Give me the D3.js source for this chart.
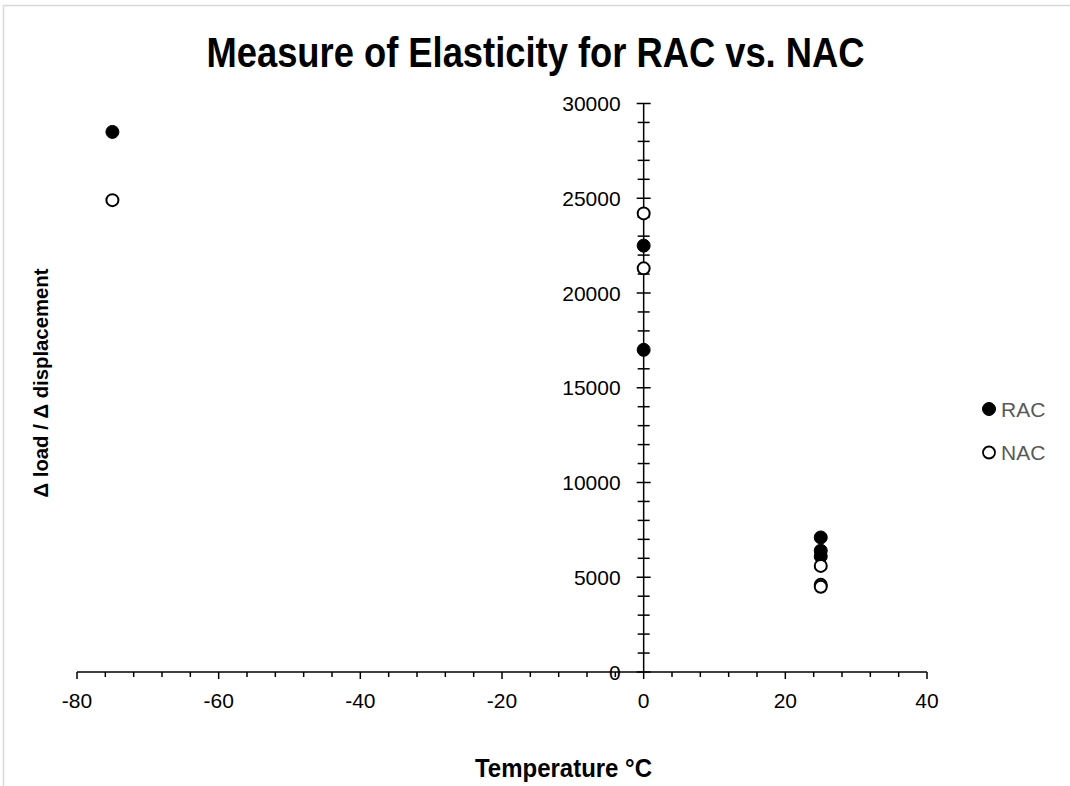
<!DOCTYPE html>
<html><head><meta charset="utf-8">
<script src="https://cdn.jsdelivr.net/npm/d3@7"></script>
<style>body{margin:0;background:#fff}svg{display:block}text{font-family:Arial,"Liberation Sans",sans-serif}</style>
</head><body><svg id="c" width="1070" height="786"></svg>
<script>
const racX = [-75, 0, 0, 25, 25, 25];
const racY = [28500, 22500, 17000, 7100, 6400, 6100];
const nacX = [-75, 0, 0, 25, 25, 25];
const nacY = [24900, 24200, 21300, 5600, 4600, 4500];
const xTicks = [-80, -60, -40, -20, 0, 20, 40];
const yTicks = [0, 5000, 10000, 15000, 20000, 25000, 30000];
const seriesNames = ["RAC", "NAC"];

const svg = d3.select("#c");
svg.append("rect").attr("x",3.5).attr("y",5.5).attr("width",1100).attr("height",900)
  .attr("fill","#fff").attr("stroke","#d9d9d9").attr("stroke-width",1.5);

const x = d3.scaleLinear().domain([-80,40]).range([77,927]);
const y = d3.scaleLinear().domain([0,30000]).range([672,103.5]);

// x axis
const gx = svg.append("g");
gx.append("line").attr("x1",x(-80)).attr("x2",x(40)).attr("y1",y(0)).attr("y2",y(0)).attr("stroke","#000").attr("stroke-width",1.5);
d3.range(-80,40.1,4).forEach(v=>{
  const major = v%20===0;
  gx.append("line").attr("x1",x(v)).attr("x2",x(v)).attr("y1",y(0)).attr("y2",y(0)+(major?7:5)).attr("stroke","#000").attr("stroke-width",1.5);
});
gx.selectAll("text.xt").data(xTicks).join("text").attr("class","xt")
  .attr("x",d=>x(d)).attr("y",y(0)+36).attr("text-anchor","middle").attr("font-size",21).attr("fill","#000").text(d=>d);

// y axis
const gy = svg.append("g");
gy.append("line").attr("x1",x(0)).attr("x2",x(0)).attr("y1",y(0)).attr("y2",y(30000)).attr("stroke","#000").attr("stroke-width",1.5);
d3.range(0,30001,1000).forEach(v=>{
  const major = v%5000===0;
  const l = major?7:6;
  gy.append("line").attr("x1",x(0)-l).attr("x2",x(0)+l).attr("y1",y(v)).attr("y2",y(v)).attr("stroke","#000").attr("stroke-width",1.5);
});
gy.selectAll("text.yt").data(yTicks).join("text").attr("class","yt")
  .attr("x",x(0)-23).attr("y",d=>y(d)+7.5).attr("text-anchor","end").attr("font-size",21).attr("fill","#000").text(d=>d);

// points
svg.append("g").selectAll("circle").data(racX.map((v,i)=>[v,racY[i]])).join("circle")
  .attr("cx",d=>x(d[0])).attr("cy",d=>y(d[1])).attr("r",6.5).attr("fill","#000").attr("stroke","#000").attr("stroke-width",1);
svg.append("g").selectAll("circle").data(nacX.map((v,i)=>[v,nacY[i]])).join("circle")
  .attr("cx",d=>x(d[0])).attr("cy",d=>y(d[1])).attr("r",6).attr("fill","#fff").attr("stroke","#000").attr("stroke-width",2);

// titles
svg.append("text").attr("x",535.5).attr("y",67).attr("text-anchor","middle").attr("font-size",42).attr("font-weight","bold")
  .attr("textLength",658).attr("lengthAdjust","spacingAndGlyphs").attr("fill","#000").text("Measure of Elasticity for RAC vs. NAC");
svg.append("text").attr("x",563.5).attr("y",777).attr("text-anchor","middle").attr("font-size",26).attr("font-weight","bold")
  .attr("textLength",177).attr("lengthAdjust","spacingAndGlyphs").attr("fill","#000").text("Temperature °C");
svg.append("text").attr("transform","translate(48,383) rotate(-90)").attr("text-anchor","middle").attr("font-size",20).attr("font-weight","bold")
  .attr("textLength",229).attr("lengthAdjust","spacingAndGlyphs").attr("fill","#000").text("Δ load / Δ displacement");

// legend
const lg = svg.append("g");
seriesNames.forEach((n,i)=>{
  const cy = 409 + i*43.5;
  lg.append("circle").attr("cx",989).attr("cy",cy).attr("r",i?6:6.5).attr("fill",i?"#fff":"#000").attr("stroke","#000").attr("stroke-width",i?1.8:1);
  lg.append("text").attr("x",1001).attr("y",cy+7.5).attr("font-size",21).attr("fill","#595959").text(n);
});
</script></body></html>
